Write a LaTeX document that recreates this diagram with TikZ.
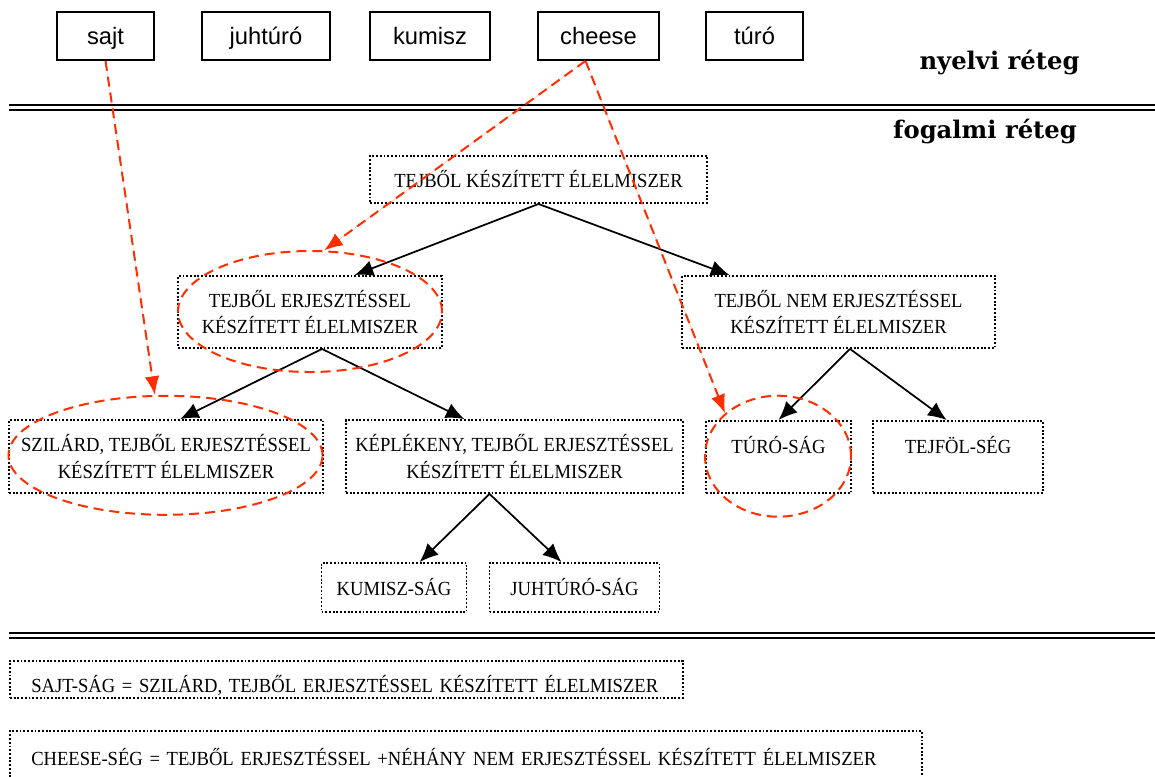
\documentclass[tikz,border=0pt]{standalone}
\usepackage{fontspec}
\setmainfont{Liberation Serif}
\newfontfamily\conceptfont[FakeStretch=0.93]{Liberation Serif}
\newfontfamily\wordfont{Liberation Sans}
\newfontfamily\layerfont{DejaVu Serif}
\usetikzlibrary{arrows.meta,calc,shapes.geometric}
\definecolor{markred}{RGB}{255,45,0}
\begin{document}
\begin{tikzpicture}[x=0.75pt,y=-0.75pt,
  word/.style={draw, line width=1.3pt, inner sep=0pt,
    font=\wordfont\fontsize{17.8pt}{20pt}\selectfont,
    text height=24pt, text depth=12pt},
  concept/.style={draw, line width=1.4pt, dash pattern=on 1.4pt off 1.4pt,
    inner sep=0pt, align=center, font=\conceptfont\fontsize{15pt}{20pt}\selectfont},
  bw/.style={minimum width=#1*0.75pt},
  bh/.style={minimum height=#1*0.75pt},
  layer/.style={font=\layerfont\bfseries\fontsize{18.2pt}{20pt}\selectfont, anchor=base, inner sep=0pt},
  rule/.style={line width=1.7pt},
  tree/.style={-{Latex[length=14pt,width=12pt]}, line width=1.3pt},
  ring/.style={ellipse, draw=markred, line width=1.5pt, dash pattern=on 7.5pt off 4.5pt, inner sep=0pt},
  link/.style={-{Latex[length=14pt,width=11pt]}, draw=markred, fill=markred, line width=1.5pt, dash pattern=on 7.5pt off 4.5pt},
]
\useasboundingbox (0,0) rectangle (1155,776);

% words (linguistic layer)
\node[word, bw=97]  (sajt)    at (105.5,36) {sajt};
\node[word, bw=128] (juhturo) at (266,36)   {juhtúró};
\node[word, bw=120] (kumisz)  at (430,36)   {kumisz};
\node[word, bw=121] (cheese)  at (598.5,36) {cheese};
\node[word, bw=97]  (turo)    at (754.5,36) {túró};

\node[layer] (nyelvi)  at (999.5,69) {nyelvi réteg};
\node[layer] (fogalmi) at (985,138)  {fogalmi réteg};

% layer separators
\draw[rule] (9,105) -- (1155,105);
\draw[rule] (9,110) -- (1155,110);
\draw[rule] (9,633) -- (1155,633);
\draw[rule] (9,638) -- (1155,638);

% concepts
\node[concept, bw=337, text height=23.8pt, text depth=11.5pt] (c0) at (538.5,179.5)
  {TEJBŐL KÉSZÍTETT ÉLELMISZER};
\node[concept, bw=264, bh=72] (c1) at (310,312)
  {TEJBŐL ERJESZTÉSSEL\\KÉSZÍTETT ÉLELMISZER};
\node[concept, bw=313, bh=72] (c2) at (838.5,312)
  {TEJBŐL NEM ERJESZTÉSSEL\\KÉSZÍTETT ÉLELMISZER};
\node[concept, bw=314, bh=73] (c3) at (166,456.5)
  {SZILÁRD, TEJBŐL ERJESZTÉSSEL\\KÉSZÍTETT ÉLELMISZER};
\node[concept, bw=337, bh=73] (c4) at (514.5,456.5)
  {KÉPLÉKENY, TEJBŐL ERJESZTÉSSEL\\KÉSZÍTETT ÉLELMISZER};
\node[concept, bw=145, text height=24pt, text depth=12.75pt] (c5) at (394,587.5) {KUMISZ-SÁG};
\node[concept, bw=170, text height=24pt, text depth=12.75pt] (c6) at (574.5,587.5) {JUHTÚRÓ-SÁG};
\node[concept, bw=145, text height=24.2pt, text depth=29.8pt] (c7) at (778.5,457) {TÚRÓ-SÁG};
\node[concept, bw=170, text height=24.2pt, text depth=29.8pt] (c8) at (958,457) {TEJFÖL-SÉG};

% definitions
\node[concept, anchor=north west, inner xsep=16pt, inner ysep=0pt, text width=472.5pt,
  align=left, text height=24pt, text depth=4pt] (def1) at (9,660)
  {SAJT-SÁG = SZILÁRD, TEJBŐL ERJESZTÉSSEL KÉSZÍTETT ÉLELMISZER};
\node[concept, anchor=north west, inner xsep=16pt, inner ysep=0pt, text width=652pt,
  align=left, text height=26.25pt, text depth=20pt] (def2) at (9,730)
  {CHEESE-SÉG = TEJBŐL ERJESZTÉSSEL +NÉHÁNY NEM ERJESZTÉSSEL KÉSZÍTETT ÉLELMISZER};

% hierarchy
\draw[tree] (c0.south) -- ($(c1.north)+(44.6,0)$);
\draw[tree] (c0.south) -- ($(c2.north)+(-109,0)$);
\draw[tree] ($(c1.south)+(12,0)$) -- ($(c3.north)+(14,0)$);
\draw[tree] ($(c1.south)+(12,0)$) -- ($(c4.north)+(-50,0)$);
\draw[tree] ($(c2.south)+(11.5,0)$) -- (c7.north);
\draw[tree] ($(c2.south)+(11.5,0)$) -- ($(c8.north)+(-11.3,0)$);
\draw[tree] ($(c4.south)+(-25,0)$) -- ($(c5.north)+(25.6,0)$);
\draw[tree] ($(c4.south)+(-25,0)$) -- ($(c6.north)+(-13,0)$);

% meanings of the words
\node[ring, bw=264, bh=121] (e1) at (310,311.5) {};
\node[ring, bw=314, bh=119] (e2) at (165.5,455.3) {};
\node[ring, bw=146, bh=121] (e3) at (778,456.2) {};

\coordinate (cheeseout) at ($(cheese.south)+(-13,0)$);
\draw[link] (sajt.south) -- (e2.100);
\draw[link] (cheeseout) -- (e1.77);
\draw[link] (cheeseout) -- (e3.141.5);
\end{tikzpicture}
\end{document}
